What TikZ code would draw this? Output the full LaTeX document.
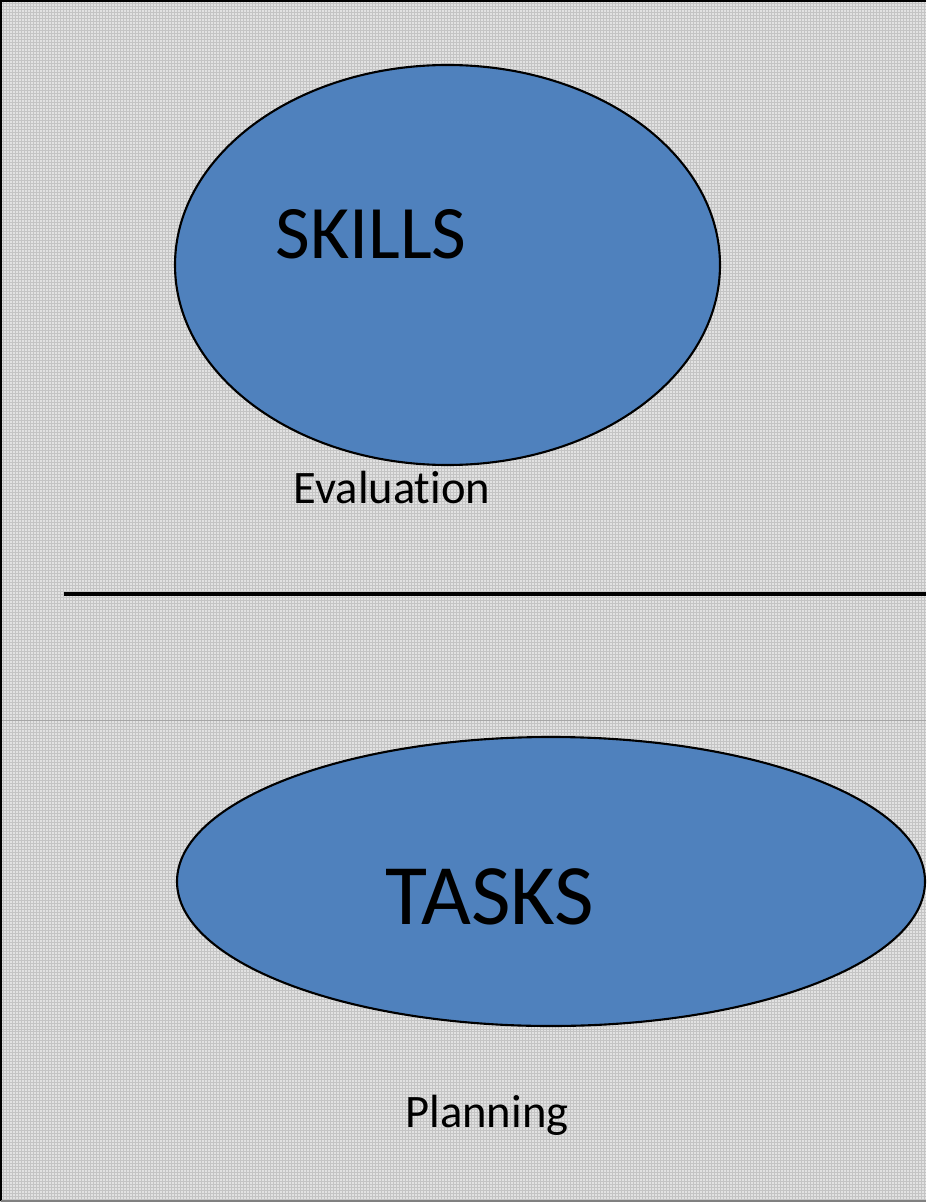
\documentclass[tikz,border=0pt]{standalone}
\usepackage{fontspec}
\setmainfont{Carlito}[Ligatures=NoCommon]
\definecolor{bgfill}{HTML}{E2E2E2}
\definecolor{gridc}{HTML}{C4C4C4}
\definecolor{ellfill}{HTML}{4F81BD}
\begin{document}
\begin{tikzpicture}[x=0.02cm,y=-0.02cm,
  lbl/.style={inner sep=0pt, anchor=base, text=black}]
\useasboundingbox (0,0) rectangle (926,1202);
\fill[bgfill] (0,0) rectangle (926,1202);
\draw[gridc, line width=0.3pt, step=0.06cm] (0,0) grid (926,1202);
\draw[gray!70, line width=0.4pt] (0,720) -- (926,720);
% border
\draw[black, line width=1.5pt] (926,1) -- (1,1) -- (1,1201);
\draw[gray, line width=0.6pt] (1,1201) -- (926,1201);
% ellipses
\path (447.5,265) coordinate (c1);
\path (551,881.5) coordinate (c2);
\draw[black, line width=1.2pt, fill=ellfill] (c1) ellipse [x radius=272.5, y radius=200];
\draw[black, line width=1.2pt, fill=ellfill] (c2) ellipse [x radius=374, y radius=144.5];
\node[lbl, font=\fontsize{43}{50}\selectfont] (skills) at (371,259) {SKILLS};
\node[lbl, font=\fontsize{26.5}{30}\selectfont] (eval) at (392,503) {Evaluation};
\node[lbl, font=\fontsize{49}{60}\selectfont] (tasks) at (490,924) {TASKS};
\node[lbl, font=\fontsize{26.5}{30}\selectfont] (plan) at (487,1127) {Planning};
% divider
\coordinate (l1) at (64,594);
\coordinate (l2) at (926,594);
\draw[black, line width=2pt] (l1) -- (l2);
\end{tikzpicture}
\end{document}
